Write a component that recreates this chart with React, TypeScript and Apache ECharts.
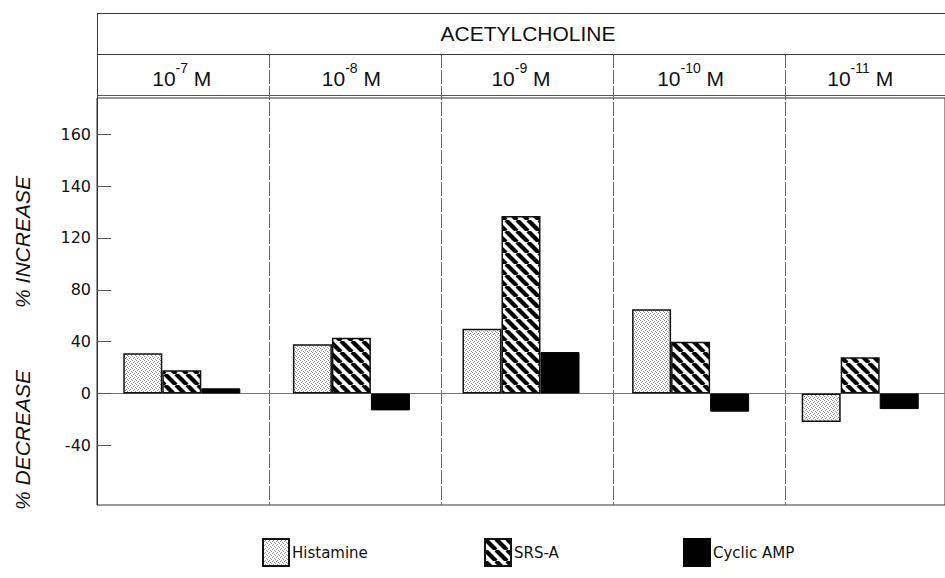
import React, { useEffect, useRef } from "react";
import * as echarts from "echarts";

// Acetylcholine concentrations (exponent of 10, molar)
const concentrations = ["-7", "-8", "-9", "-10", "-11"];
// % change from control for each mediator
const histamine = [31, 38, 50, 65, -22];
const srsA = [18, 43, 137, 40, 28];
const cyclicAmp = [4, -13, 32, -14, -12];
// printed scale ticks (value positions and their printed labels)
const yTickValues = [-40, 0, 40, 80, 120, 160, 200];
const yTickLabels = ["-40", "0", "40", "80", "120", "140", "160"];

const GRID_LEFT = 97;
const GRID_WIDTH = 860;
const GRID_TOP = 98;
const GRID_BOTTOM_Y = 505;
const PAGE_W = 945;
const PAGE_H = 578;

function tile(size: number, draw: (ctx: CanvasRenderingContext2D) => void) {
  const c = document.createElement("canvas");
  c.width = size;
  c.height = size;
  const ctx = c.getContext("2d")!;
  ctx.fillStyle = "#ffffff";
  ctx.fillRect(0, 0, size, size);
  draw(ctx);
  return c;
}

export default function App() {
  const ref = useRef<HTMLDivElement>(null);

  useEffect(() => {
    if (!ref.current) return;
    const chart = echarts.init(ref.current, undefined, { renderer: "svg" });

    const stipple = tile(4, (ctx) => {
      ctx.fillStyle = "#8f8f8f";
      [[0, 0], [2, 1], [1, 2], [3, 3]].forEach(([x, y]) => ctx.fillRect(x, y, 1, 1));
    });
    const hatch = tile(11, (ctx) => {
      ctx.strokeStyle = "#000000";
      ctx.lineWidth = 4.2;
      for (const off of [-11, 0, 11]) {
        ctx.beginPath();
        ctx.moveTo(off, 0);
        ctx.lineTo(off + 11, 11);
        ctx.stroke();
      }
    });

    const catW = GRID_WIDTH / concentrations.length;
    const lineStyle = { stroke: "#3a3a3a", lineWidth: 1 };
    const graphics: any[] = [];
    // header frame
    graphics.push({ type: "line", shape: { x1: GRID_LEFT, y1: 13.5, x2: PAGE_W, y2: 13.5 }, style: lineStyle, silent: true });
    graphics.push({ type: "line", shape: { x1: GRID_LEFT, y1: 54.5, x2: PAGE_W, y2: 54.5 }, style: lineStyle, silent: true });
    graphics.push({ type: "line", shape: { x1: GRID_LEFT, y1: 95.5, x2: PAGE_W, y2: 95.5 }, style: { stroke: "#555", lineWidth: 1.2 }, silent: true });
    graphics.push({ type: "line", shape: { x1: GRID_LEFT + 0.5, y1: 13, x2: GRID_LEFT + 0.5, y2: GRID_TOP }, style: lineStyle, silent: true });
    for (let i = 1; i < concentrations.length; i++) {
      const x = Math.round(GRID_LEFT + i * catW) + 0.5;
      graphics.push({ type: "line", shape: { x1: x, y1: 54, x2: x, y2: GRID_BOTTOM_Y }, style: { stroke: "#666", lineWidth: 1, lineDash: [14, 2] }, silent: true });
    }
    graphics.push({
      type: "text", x: GRID_LEFT + GRID_WIDTH / 2 + 1, y: 33,
      style: { text: "ACETYLCHOLINE", fontSize: 21, fontFamily: "'Liberation Sans', sans-serif", fill: "#111", align: "center", verticalAlign: "middle" },
    });
    graphics.push({
      type: "text", x: 22, y: 242, rotation: Math.PI / 2,
      style: { text: "% INCREASE", fontSize: 21, fontStyle: "italic", fontFamily: "'Liberation Sans', sans-serif", fill: "#111", align: "center", verticalAlign: "middle" },
    });
    graphics.push({
      type: "text", x: 22, y: 440, rotation: Math.PI / 2,
      style: { text: "% DECREASE", fontSize: 21, fontStyle: "italic", fontFamily: "'Liberation Sans', sans-serif", fill: "#111", align: "center", verticalAlign: "middle" },
    });

    const legendBase = {
      top: 533,
      itemWidth: 26,
      itemHeight: 27,
      icon: "rect",
      selectedMode: false,
      textStyle: { fontSize: 15, fontFamily: "'DejaVu Sans', sans-serif", color: "#111", padding: [0, 0, 0, -2] },
    };

    chart.setOption({
      animation: false,
      backgroundColor: "#ffffff",
      grid: {
        left: GRID_LEFT, top: GRID_TOP, width: GRID_WIDTH, height: GRID_BOTTOM_Y - GRID_TOP,
        show: true, borderColor: "#333", borderWidth: 1, backgroundColor: "transparent",
      },
      legend: [
        { ...legendBase, left: 257, data: ["Histamine"] },
        { ...legendBase, left: 479, data: ["SRS-A"] },
        { ...legendBase, left: 678, data: ["Cyclic AMP"] },
      ],
      xAxis: [
        {
          type: "category",
          data: concentrations,
          position: "top",
          axisLine: { show: false, onZero: false },
          axisTick: { show: false },
          splitLine: { show: false },
          axisLabel: {
            margin: 9,
            formatter: (v: string) => `{b|10}{s|${v}}{b| M}`,
            rich: {
              b: { fontSize: 21, fontFamily: "'Liberation Sans', sans-serif", color: "#111", lineHeight: 28, verticalAlign: "bottom" },
              s: { fontSize: 14, fontFamily: "'Liberation Sans', sans-serif", color: "#111", lineHeight: 28, verticalAlign: "top" },
            },
          },
        },
        {
          type: "category",
          data: concentrations,
          position: "bottom",
          axisLine: { show: true, onZero: true, lineStyle: { color: "#777", width: 1 } },
          axisTick: { show: false },
          axisLabel: { show: false },
          splitLine: { show: false },
        },
      ],
      yAxis: {
        type: "value",
        min: -86,
        max: 228,
        axisLine: { show: true, lineStyle: { color: "#333", width: 1 } },
        axisTick: { show: true, inside: true, length: 14, customValues: yTickValues, lineStyle: { color: "#555" } },
        axisLabel: {
          customValues: yTickValues,
          formatter: (v: number) => yTickLabels[yTickValues.indexOf(v)] ?? "",
          fontSize: 16,
          fontFamily: "'DejaVu Sans', sans-serif",
          color: "#111",
          margin: 6,
        },
        splitLine: { show: false },
      },
      series: [
        {
          name: "Histamine", type: "bar", data: histamine, barGap: "0%", barCategoryGap: "31%",
          itemStyle: { color: { image: stipple, repeat: "repeat", imageWidth: 4, imageHeight: 4 } as any, borderColor: "#111", borderWidth: 1.5 },
        },
        {
          name: "SRS-A", type: "bar", data: srsA, barGap: "0%", barCategoryGap: "31%",
          itemStyle: { color: { image: hatch, repeat: "repeat", imageWidth: 11, imageHeight: 11 } as any, borderColor: "#111", borderWidth: 1.5 },
        },
        {
          name: "Cyclic AMP", type: "bar", data: cyclicAmp, barGap: "0%", barCategoryGap: "31%",
          itemStyle: { color: "#000000", borderColor: "#000", borderWidth: 1 },
        },
      ],
      graphic: graphics,
    });

    return () => chart.dispose();
  }, []);

  return (
    <div
      ref={ref}
      style={{ position: "fixed", left: 0, top: 0, width: PAGE_W, height: PAGE_H, background: "#fff" }}
    />
  );
}
